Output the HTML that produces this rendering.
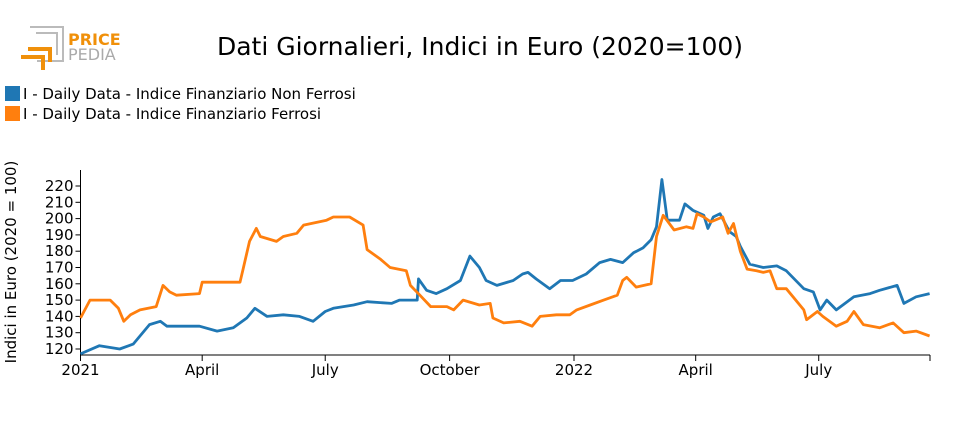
<!DOCTYPE html>
<html><head><meta charset="utf-8"><style>
body{margin:0;background:#fff;width:960px;height:430px;overflow:hidden;font-family:"DejaVu Sans","Liberation Sans",sans-serif}
svg text{font-family:"DejaVu Sans","Liberation Sans",sans-serif}
</style></head><body>
<svg id="chart" width="960" height="430">
<g>
<path d="M30 27 H63 V61 H37" fill="none" stroke="#bbb" stroke-width="2"/>
<path d="M36 33 H57 V55" fill="none" stroke="#bbb" stroke-width="2"/>
<path d="M21 57 H43 V70" fill="none" stroke="#f0900a" stroke-width="4"/>
<path d="M28 49 H50 V62" fill="none" stroke="#f0900a" stroke-width="4"/>
<text x="68" y="45" font-size="16" font-weight="bold" fill="#f0900a">PRICE</text>
<text x="68" y="60" font-size="16" fill="#aaa">PEDIA</text>
</g>
<text x="480" y="55" text-anchor="middle" font-size="25" fill="#000">Dati Giornalieri, Indici in Euro (2020=100)</text>
<g><rect x="5" y="86" width="15" height="15" fill="#1f77b4"/><text x="23" y="99" font-size="15">I - Daily Data - Indice Finanziario Non Ferrosi</text></g>
<g><rect x="5" y="106" width="15" height="15" fill="#ff7f0e"/><text x="23" y="119" font-size="15">I - Daily Data - Indice Finanziario Ferrosi</text></g>
<text transform="translate(16,262) rotate(-90)" text-anchor="middle" font-size="15">Indici in Euro (2020 = 100)</text>
<g id="axes"></g>
<g id="series"></g>
</svg>
<script>
const yTicks=[120,130,140,150,160,170,180,190,200,210,220];
const xTickDays=[0,90,181,273,365,455,546];
const xTickLabels=["2021","April","July","October","2022","April","July"];
const blueDays=[0,14,29,39,51,59,64,88,101,113,123,129,138,150,162,172,181,187,202,212,230,236,249,250,256,263,271,281,288,295,300,308,320,327,331,337,347,355,364,374,384,392,401,409,416,422,426,430,434,443,447,453,461,464,468,473,480,485,488,495,505,515,522,535,542,547,552,559,572,584,591,604,609,618,628];
const blueVals=[117,122,120,123,135,137,134,134,131,133,139,145,140,141,140,137,143,145,147,149,148,150,150,163,156,154,157,162,177,170,162,159,162,166,167,163,157,162,162,166,173,175,173,179,182,187,195,224,199,199,209,205,202,194,201,203,192,189,183,172,170,171,168,157,155,144,150,144,152,154,156,159,148,152,154];
const orangeDays=[0,7,22,28,32,37,44,56,61,66,71,88,90,101,118,120,125,130,133,145,150,160,165,182,187,199,209,212,222,229,241,244,251,259,271,276,283,295,303,305,313,325,334,340,352,362,367,377,387,397,401,404,411,422,426,431,439,448,453,456,461,466,475,479,483,488,493,500,505,510,515,522,535,537,545,549,559,567,572,579,591,601,609,618,628];
const orangeVals=[139,150,150,145,137,141,144,146,159,155,153,154,161,161,161,168,186,194,189,186,189,191,196,199,201,201,196,181,175,170,168,159,153,146,146,144,150,147,148,139,136,137,134,140,141,141,144,147,150,153,162,164,158,160,189,202,193,195,194,203,201,198,201,191,197,180,169,168,167,168,157,157,144,138,143,140,134,137,143,135,133,136,130,131,128];
const NS="http://www.w3.org/2000/svg";
const X0=80.5,X1=930,Y0=349,Y1=186,yTop=170,axisY=355;
const xs=d=>X0+d*(493.5/365);
const ys=v=>Y0+(v-120)*(Y1-Y0)/100;
function mk(t,a,p){const e=document.createElementNS(NS,t);for(const k in a)e.setAttribute(k,a[k]);p.appendChild(e);return e;}
const ax=document.getElementById('axes');
const yl=mk('line',{x1:X0,x2:X0,y1:yTop,y2:axisY,stroke:'#000','stroke-width':1},ax);


const xl=mk('line',{x1:X0,x2:X1,y1:axisY,y2:axisY,stroke:'#000','stroke-width':1},ax);


yTicks.forEach(v=>{const y=ys(v);mk('line',{x1:X0-5,x2:X0,y1:y,y2:y,stroke:'#000'},ax);
const t=mk('text',{x:X0-7,y:y+5,'text-anchor':'end','font-size':15},ax);t.textContent=v;

});
xTickDays.forEach((d,i)=>{const x=xs(d);mk('line',{x1:x,x2:x,y1:axisY,y2:axisY+6,stroke:'#000'},ax);
const t=mk('text',{x:x,y:axisY+20,'text-anchor':'middle','font-size':15},ax);t.textContent=xTickLabels[i];

});
mk('line',{x1:X1,x2:X1,y1:axisY,y2:axisY+6,stroke:'#000'},ax);
const sg=document.getElementById('series');
function line(days,vals,color,name){const p=mk('path',{d:days.map((d,i)=>(i?'L':'M')+xs(d).toFixed(1)+' '+ys(vals[i]).toFixed(1)).join(' '),fill:'none',stroke:color,'stroke-width':2.8,'stroke-linejoin':'round'},sg);

}
line(blueDays,blueVals,'#1f77b4','line-non-ferrosi');
line(orangeDays,orangeVals,'#ff7f0e','line-ferrosi');
</script>
</body></html>
